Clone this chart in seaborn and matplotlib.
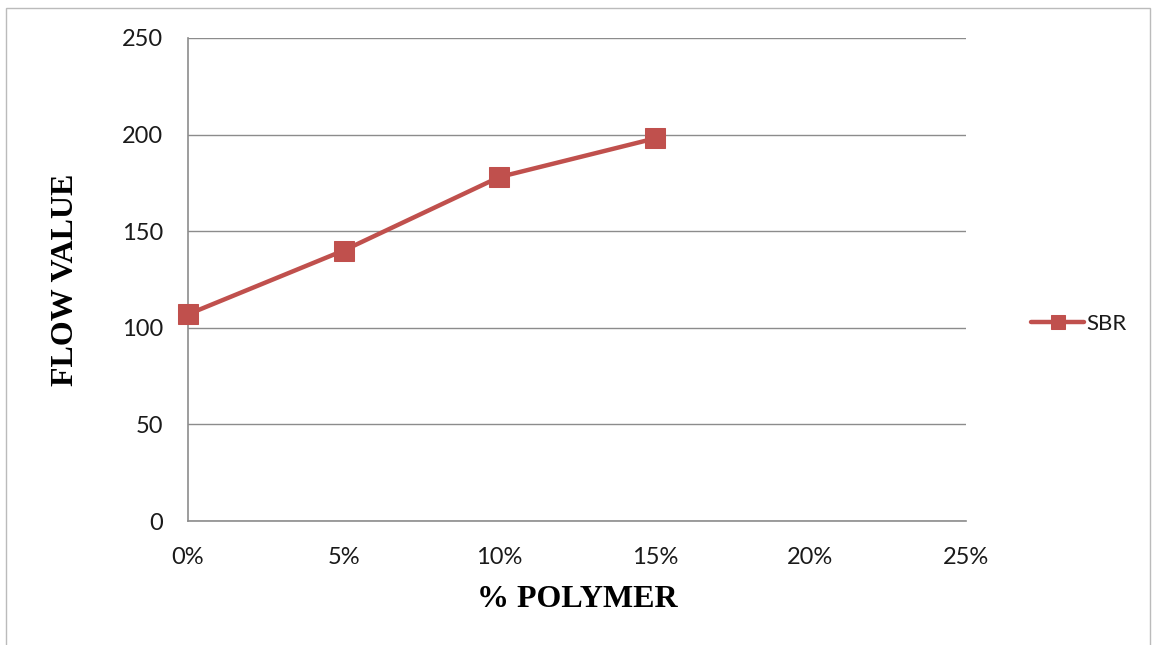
import matplotlib
matplotlib.use("Agg")
import matplotlib.pyplot as plt
import matplotlib.ticker as mticker
from matplotlib.patches import Rectangle
import seaborn as sns
import pandas as pd

# Flow value of the mix against polymer content
polymer_pct = [0, 5, 10, 15]
flow_value = [107, 140, 178, 198]
series_name = "SBR"

x_ticks = [0, 5, 10, 15, 20, 25]
y_ticks = [0, 50, 100, 150, 200, 250]

df = pd.DataFrame({"polymer": polymer_pct, "flow": flow_value, "series": series_name})

sns.set_theme(style="white")
plt.rcParams["font.family"] = ["Lato", "DejaVu Sans"]

red = "#C0504D"
grid_gray = "#8C8C8C"

fig = plt.figure(figsize=(11.52, 6.45), dpi=100)
ax = fig.add_axes([0.1632, 0.1922, 0.8385 - 0.1632, 0.9411 - 0.1922])

sns.lineplot(data=df, x="polymer", y="flow", hue="series", palette=[red],
             marker="s", markersize=14, markeredgecolor=red, linewidth=3.2,
             ax=ax, clip_on=False, zorder=5)

ax.set_xlim(0, 25)
ax.set_ylim(0, 250)
ax.set_xticks(x_ticks)
ax.set_yticks(y_ticks)
ax.xaxis.set_major_formatter(mticker.FuncFormatter(lambda v, p: f"{int(v)}%"))
ax.tick_params(axis="both", length=0, labelsize=17, colors="#1a1a1a")
ax.tick_params(axis="x", pad=19)
ax.tick_params(axis="y", pad=18)

ax.yaxis.grid(True, color=grid_gray, linewidth=1)
ax.xaxis.grid(False)
for side in ["top", "right"]:
    ax.spines[side].set_visible(False)
for side in ["left", "bottom"]:
    ax.spines[side].set_color(grid_gray)
    ax.spines[side].set_linewidth(1.2)

serif = ["Liberation Serif", "DejaVu Serif"]
ax.set_xlabel("% POLYMER", family=serif, fontweight="bold", fontsize=23, labelpad=12, color="black")
ax.set_ylabel("FLOW VALUE", family=serif, fontweight="bold", fontsize=23, labelpad=30, color="black")

leg = ax.legend(loc="center left", bbox_to_anchor=(1.058, 0.408), frameon=False,
                fontsize=16, handlelength=2.4, handletextpad=0.1, markerscale=0.75)
for t in leg.get_texts():
    t.set_color("#1a1a1a")

# Thin frame around the whole figure
fig.patches.append(Rectangle((0.005, -0.01), 0.993, 0.998, transform=fig.transFigure,
                             fill=False, edgecolor="#BBBBBB", linewidth=1))

fig.savefig("out.png", dpi=100)
